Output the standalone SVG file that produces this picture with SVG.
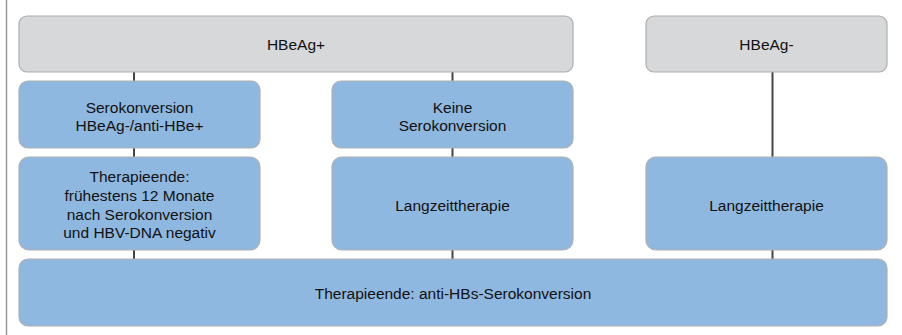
<svg xmlns="http://www.w3.org/2000/svg" width="902" height="335" viewBox="0 0 902 335">
<style>
.g{fill:#d7d8da;stroke:#adadad;stroke-width:1.2}
.b{fill:#8fb8e0;stroke:#b0b0b0;stroke-width:1.2}
.c{stroke:#444;stroke-width:2;fill:none}
text{font-family:"Liberation Sans",Arial,sans-serif;font-size:15.5px;fill:#111;text-anchor:middle}
</style>
<rect width="902" height="335" fill="#fff"/>
<line x1="6.5" y1="0" x2="6.5" y2="335" stroke="#999" stroke-width="1.5"/>
<g id="connectors">
<line class="c" x1="134" y1="72" x2="134" y2="81"/>
<line class="c" x1="134" y1="148" x2="134" y2="157"/>
<line class="c" x1="134" y1="250" x2="134" y2="259"/>
<line class="c" x1="452.5" y1="72" x2="452.5" y2="81"/>
<line class="c" x1="452.5" y1="148" x2="452.5" y2="157"/>
<line class="c" x1="452.5" y1="250" x2="452.5" y2="259"/>
<line class="c" x1="772.5" y1="72" x2="772.5" y2="157"/>
<line class="c" x1="772.5" y1="250" x2="772.5" y2="259"/>
</g>
<g id="hbeag-pos"><rect class="g" x="19" y="16" width="554" height="56" rx="8"/><text x="296" y="49.5">HBeAg+</text></g>
<g id="hbeag-neg"><rect class="g" x="646" y="16" width="241" height="56" rx="8"/><text x="766.5" y="49.5">HBeAg-</text></g>
<g id="sero"><rect class="b" x="19" y="81" width="241" height="67" rx="9"/><text x="139.5" y="112.5">Serokonversion</text><text x="139.5" y="131">HBeAg-/anti-HBe+</text></g>
<g id="keine"><rect class="b" x="332" y="81" width="241" height="67" rx="9"/><text x="452.5" y="112.5">Keine</text><text x="452.5" y="131">Serokonversion</text></g>
<g id="therapieende1"><rect class="b" x="19" y="157" width="241" height="93" rx="10"/><text x="139.5" y="182">Therapieende:</text><text x="139.5" y="201">frühestens 12 Monate</text><text x="139.5" y="219.5">nach Serokonversion</text><text x="139.5" y="238">und HBV-DNA negativ</text></g>
<g id="langzeit1"><rect class="b" x="332" y="157" width="241" height="93" rx="10"/><text x="452.5" y="211">Langzeittherapie</text></g>
<g id="langzeit2"><rect class="b" x="646" y="157" width="241" height="93" rx="10"/><text x="766.5" y="211">Langzeittherapie</text></g>
<g id="therapieende2"><rect class="b" x="19" y="259" width="868" height="67" rx="9"/><text x="453" y="299">Therapieende: anti-HBs-Serokonversion</text></g>
</svg>
